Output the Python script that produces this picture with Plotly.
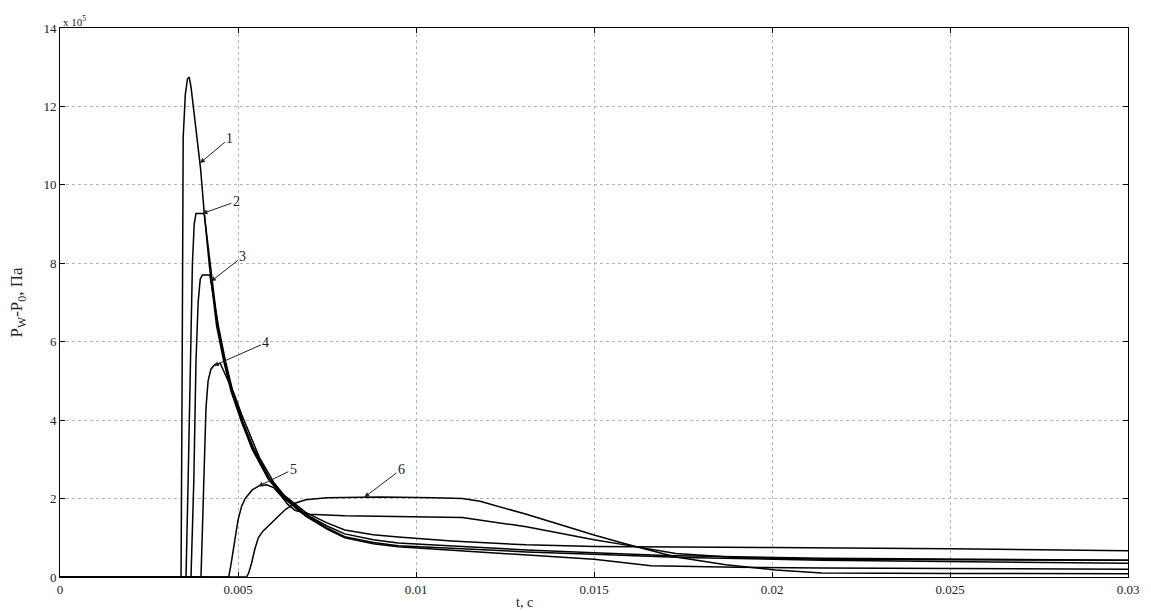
import numpy as np
import plotly.graph_objects as go

# ---- data (pressure in units of 1e5 Pa, time in s) ----
t1 = [0, 0.0034, 0.00343, 0.00346, 0.00352, 0.00358, 0.00363, 0.00368, 0.00395, 0.00405,
      0.0042, 0.0044, 0.0046, 0.0048, 0.0051, 0.0054, 0.00585, 0.0063, 0.0069, 0.0075, 0.008,
      0.0088, 0.0095, 0.0105, 0.0115, 0.0131, 0.015, 0.0166, 0.019, 0.0214, 0.025, 0.03]
p1 = [0, 0, 5.0, 11.2, 12.3, 12.7, 12.75, 12.5, 10.4, 9.3,
      7.9, 6.4, 5.5, 4.75, 3.95, 3.25, 2.5, 2.0, 1.55, 1.22, 1.0,
      0.85, 0.77, 0.71, 0.66, 0.56, 0.45, 0.29, 0.25, 0.23, 0.21, 0.20]

t2 = [0, 0.00354, 0.0036, 0.00366, 0.00372, 0.00377, 0.00382, 0.00405, 0.00423, 0.00443,
      0.00463, 0.00483, 0.00512, 0.0054, 0.00586, 0.0063, 0.0069, 0.0075, 0.008, 0.0088,
      0.0095, 0.0113, 0.0131, 0.015, 0.0175, 0.0214, 0.025, 0.03]
p2 = [0, 0, 2.5, 5.5, 8.0, 9.0, 9.27, 9.27, 7.9, 6.4,
      5.5, 4.75, 3.95, 3.3, 2.52, 2.02, 1.57, 1.25, 1.03, 0.88,
      0.80, 0.72, 0.64, 0.58, 0.50, 0.43, 0.39, 0.35]

t3 = [0, 0.00368, 0.00376, 0.00382, 0.00388, 0.00394, 0.004, 0.00421, 0.00445, 0.00465,
      0.00485, 0.00514, 0.00543, 0.00588, 0.00632, 0.0069, 0.0075, 0.008, 0.0088, 0.0095,
      0.0113, 0.0131, 0.015, 0.017, 0.0214, 0.025, 0.03]
p3 = [0, 0, 2.5, 5.5, 7.0, 7.6, 7.7, 7.7, 6.4, 5.5,
      4.75, 3.95, 3.3, 2.52, 2.03, 1.6, 1.3, 1.1, 0.95, 0.87,
      0.78, 0.69, 0.62, 0.55, 0.48, 0.46, 0.43]

t4 = [0, 0.00396, 0.004, 0.00405, 0.0041, 0.00416, 0.00424, 0.00435, 0.0045, 0.0047,
      0.0049, 0.0051, 0.0053, 0.0056, 0.006, 0.0063, 0.0069, 0.0075, 0.008, 0.0088,
      0.0095, 0.011, 0.0131, 0.015, 0.02, 0.025, 0.03]
p4 = [0, 0, 1.2, 3.0, 4.3, 5.0, 5.3, 5.42, 5.45, 5.05,
      4.65, 4.15, 3.7, 3.05, 2.42, 2.08, 1.65, 1.38, 1.2, 1.08,
      1.02, 0.92, 0.82, 0.78, 0.75, 0.72, 0.67]

t5 = [0, 0.00474, 0.0048, 0.0049, 0.005, 0.0051, 0.0052, 0.0054, 0.0056, 0.0058,
      0.006, 0.0062, 0.0064, 0.0066, 0.007, 0.008, 0.0095, 0.0113, 0.0131, 0.015,
      0.016, 0.0173, 0.019, 0.0214, 0.025, 0.03]
p5 = [0, 0, 0.3, 0.9, 1.45, 1.8, 2.0, 2.22, 2.33, 2.35,
      2.28, 2.08, 1.85, 1.7, 1.6, 1.56, 1.54, 1.52, 1.28, 0.95,
      0.80, 0.60, 0.50, 0.45, 0.44, 0.43]

t6 = [0, 0.00524, 0.0053, 0.00538, 0.00547, 0.00557, 0.0057, 0.0059, 0.0061, 0.00633,
      0.0066, 0.0069, 0.0075, 0.009, 0.0105, 0.0113, 0.0118, 0.0131, 0.015, 0.0159,
      0.0173, 0.0187, 0.0201, 0.0214, 0.025, 0.03]
p6 = [0, 0, 0.1, 0.35, 0.7, 1.0, 1.17, 1.35, 1.52, 1.72,
      1.88, 1.97, 2.02, 2.04, 2.02, 2.0, 1.93, 1.6, 1.07, 0.84,
      0.51, 0.31, 0.18, 0.10, 0.09, 0.08]

curves = [(t1, p1), (t2, p2), (t3, p3), (t4, p4), (t5, p5), (t6, p6)]
curve_labels = ["1", "2", "3", "4", "5", "6"]
label_t = [0.00393, 0.00400, 0.00424, 0.00432, 0.00557, 0.00855]

x_ticks = [0, 0.005, 0.01, 0.015, 0.02, 0.025, 0.03]
x_ticktext = ["0", "0.005", "0.01", "0.015", "0.02", "0.025", "0.03"]
y_ticks = [0, 2, 4, 6, 8, 10, 12, 14]

# ---- figure ----
fig = go.Figure()
for (tt, pp) in curves:
    fig.add_trace(go.Scatter(x=tt, y=pp, mode="lines",
                             line=dict(color="black", width=1.5),
                             showlegend=False, hoverinfo="skip"))

label_offsets = [(30, -25), (34, -12), (32, -25), (52, -23), (35, -17), (37, -28)]
for (tt, pp), lab, lt, (ax, ay) in zip(curves, curve_labels, label_t, label_offsets):
    yv = float(np.interp(lt, tt, pp))
    fig.add_annotation(x=lt, y=yv, xref="x", yref="y", text=lab,
                       showarrow=True, arrowhead=2, arrowsize=1, arrowwidth=1,
                       arrowcolor="#222", ax=ax, ay=ay, standoff=0,
                       font=dict(family="Liberation Serif", size=14, color="#222"))

fig.add_annotation(x=0, y=1, xref="paper", yref="paper", xanchor="left", yanchor="bottom",
                   text="x 10<sup>5</sup>", showarrow=False, xshift=1, yshift=-2,
                   font=dict(family="Liberation Serif", size=11, color="#222"))
fig.add_annotation(x=0.435, y=0, xref="paper", yref="paper", xanchor="center", yanchor="top",
                   text="t, c", showarrow=False, yshift=-16,
                   font=dict(family="Liberation Serif", size=14, color="#222"))

axis_common = dict(showline=True, linecolor="black", linewidth=1, mirror="ticks",
                   ticks="inside", ticklen=5, tickcolor="black",
                   showgrid=True, gridcolor="#b5b5b5", griddash="dot", gridwidth=1,
                   zeroline=False,
                   tickfont=dict(family="Liberation Serif", size=13, color="#222"))

fig.update_xaxes(range=[0, 0.03], tickvals=x_ticks, ticktext=x_ticktext, **axis_common)
fig.update_yaxes(range=[0, 14], tickvals=y_ticks, **axis_common,
                 title=dict(text="P<sub>W</sub>-P<sub>0</sub>, Па", standoff=16,
                            font=dict(family="Liberation Serif", size=17, color="#222")))

fig.update_layout(width=1151, height=611, margin=dict(l=60, r=15, t=28, b=34),
                  plot_bgcolor="white", paper_bgcolor="white")

fig.write_html("out.html")
